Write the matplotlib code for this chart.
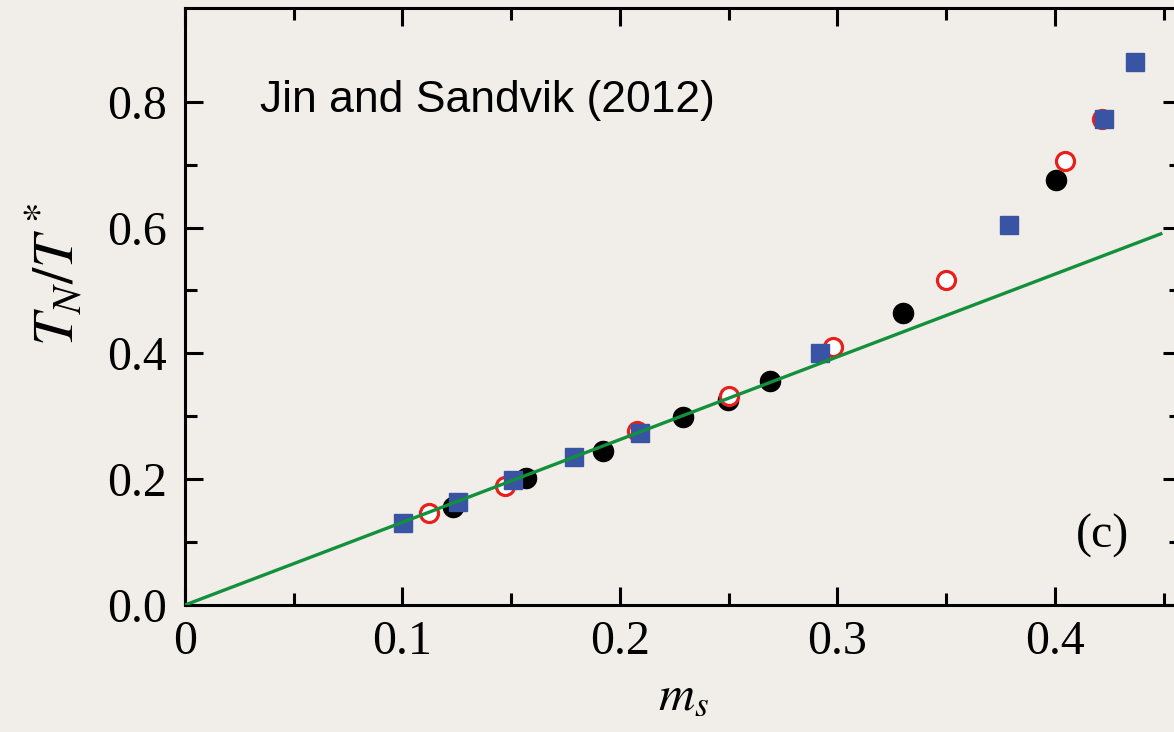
import matplotlib
matplotlib.use("Agg")
import matplotlib.pyplot as plt
from matplotlib.ticker import FixedLocator, FixedFormatter

plt.rcParams['mathtext.fontset'] = 'stix'
plt.rcParams['font.family'] = 'Liberation Serif'

# data
ms_black = [0.1233, 0.1568, 0.1922, 0.229, 0.2497, 0.269, 0.330, 0.4004]
tn_black = [0.156, 0.202, 0.245, 0.299, 0.326, 0.356, 0.464, 0.676]

ms_red = [0.112, 0.147, 0.208, 0.250, 0.298, 0.350, 0.4046, 0.4216]
tn_red = [0.146, 0.189, 0.277, 0.332, 0.410, 0.517, 0.706, 0.773]

ms_blue = [0.1002, 0.1255, 0.151, 0.179, 0.209, 0.292, 0.379, 0.4225, 0.437]
tn_blue = [0.130, 0.164, 0.199, 0.235, 0.273, 0.401, 0.604, 0.773, 0.863]

line_x = [0.0, 0.4487]
line_y = [0.0, 0.590]

xticks = [0, 0.1, 0.2, 0.3, 0.4]
xtick_labels = ['0', '0.1', '0.2', '0.3', '0.4']
yticks = [0.0, 0.2, 0.4, 0.6, 0.8]
ytick_labels = ['0.0', '0.2', '0.4', '0.6', '0.8']

bg = '#f1eee9'
fig = plt.figure(figsize=(11.74, 7.32), dpi=100, facecolor=bg)
ax = fig.add_axes([185/1174, 127/732, 996/1174, 597/732])
ax.set_facecolor(bg)

ax.plot(ms_black, tn_black, 'o', ms=14.5, color='black', mec='black', zorder=3)
ax.plot(ms_red, tn_red, 'o', ms=13, mfc='white', mec='#e8201c', mew=2.3, zorder=4)
ax.plot(ms_blue, tn_blue, 's', ms=12.5, color='#3a54a4', mec='#3a54a4', zorder=5)
ax.plot(line_x, line_y, '-', color='#12903c', lw=2.4, zorder=6)

ax.set_xlim(0, 0.458)
ax.set_ylim(0, 0.949)

ax.xaxis.set_major_locator(FixedLocator(xticks))
ax.xaxis.set_major_formatter(FixedFormatter(xtick_labels))
ax.xaxis.set_minor_locator(FixedLocator([0.05, 0.15, 0.25, 0.35, 0.45]))
ax.yaxis.set_major_locator(FixedLocator(yticks))
ax.yaxis.set_major_formatter(FixedFormatter(ytick_labels))
ax.yaxis.set_minor_locator(FixedLocator([0.1, 0.3, 0.5, 0.7]))

ax.tick_params(which='both', direction='in', top=True, right=True, width=2.2,
               labelsize=34.5)
ax.tick_params(which='major', length=13)
ax.tick_params(which='minor', length=8.5)
ax.tick_params(axis='x', pad=11)
ax.tick_params(axis='y', pad=13)
for s in ax.spines.values():
    s.set_linewidth(2.2)

ax.set_xlabel('$m_s$', fontsize=36)
ax.xaxis.set_label_coords(0.5, -0.115)
ax.set_ylabel('$T_N/T^*$', fontsize=42)
ax.yaxis.set_label_coords(-0.10, 0.553)

ax.text(0.0345, 0.784, 'Jin and Sandvik (2012)', family='Liberation Sans',
        fontsize=32, va='baseline', ha='left')
ax.text(0.434, 0.11, '(c)', fontsize=34.5, ha='right', va='center')

fig.savefig('out.png', dpi=100, facecolor=bg)
